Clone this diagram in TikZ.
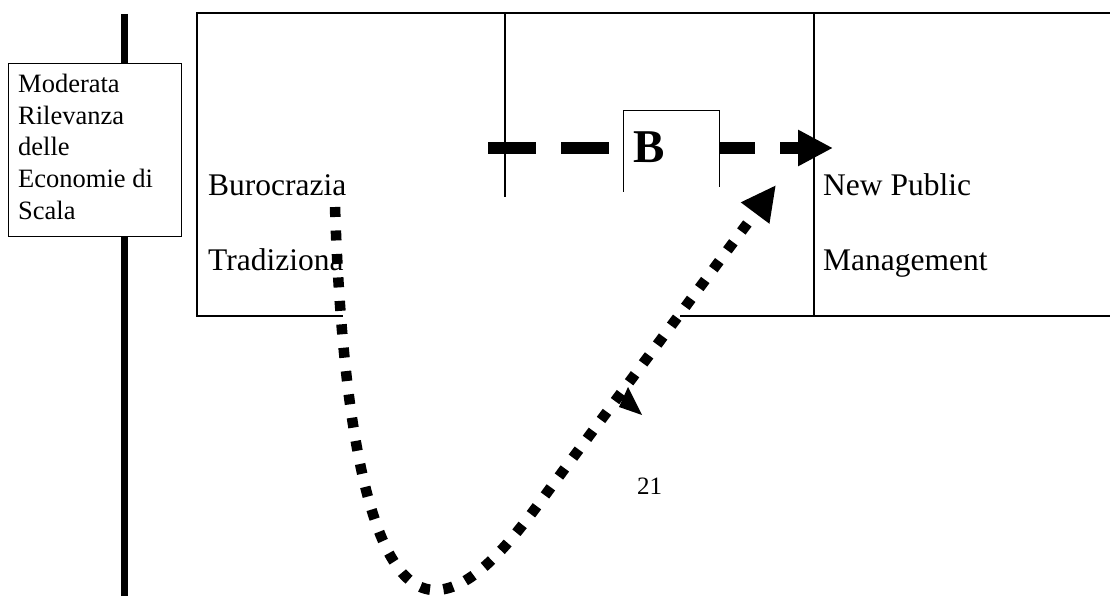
\documentclass[tikz,border=0pt]{standalone}
\usepackage{fontspec}
\setmainfont{Liberation Serif}
\usetikzlibrary{arrows.meta}
\begin{document}
\begin{tikzpicture}[x=1pt,y=-1pt,
  frame/.style={line width=1.3pt},
  bigtxt/.style={anchor=base west,inner sep=0pt,font=\fontsize{31.5}{37}\selectfont},
  smalltxt/.style={anchor=base west,inner sep=0pt,font=\fontsize{26.5}{31.3}\selectfont},
  dashedarrow/.style={line width=11.7pt,dash pattern=on 48pt off 25pt,-{Triangle[length=35pt,width=34pt]}},
  dottedarrow/.style={line width=10.5pt,dash pattern=on 10pt off 13.5pt,-{Triangle[length=35pt,width=33pt]}}]
\useasboundingbox (0,0) rectangle (1110,596);
% thick vertical axis
\coordinate (axtop) at (124,14);
\coordinate (axbot) at (124,596);
\draw[line width=7pt] (axtop) -- (axbot);
% left label box
\node[draw,fill=white,line width=1pt,minimum width=173pt,minimum height=173pt,anchor=north west,inner sep=0pt] (mod) at (8,63) {};
\node[smalltxt] (m1) at (18,93) {Moderata};
\node[smalltxt] (m2) at (18,124.5) {Rilevanza};
\node[smalltxt] (m3) at (18,156) {delle};
\node[smalltxt] (m4) at (18,187.5) {Economie di};
\node[smalltxt] (m5) at (18,219) {Scala};
% table frame
\draw[frame] (1110,13) -- (197,13) -- (197,316) -- (343,316);
\draw[frame] (680,316) -- (1110,316);
\draw[frame] (505,13) -- (505,197);
\draw[frame] (814,13) -- (814,316);
% texts
\node[bigtxt] (bur) at (208,196) {Burocrazia};
\node[bigtxt] (trad) at (208,270) {Tradiziona};
\node[bigtxt] (npm) at (823,195) {New Public};
\node[bigtxt] (mgmt) at (823,270) {Management};
\node[anchor=base west,inner sep=0pt,font=\fontsize{25}{30}\selectfont] (pg) at (637,494) {21};
% dashed arrow
\coordinate (dstart) at (488,148);
\coordinate (dend) at (833,148);
\draw[dashedarrow] (dstart) -- (dend);
% B box
\node[fill=white,minimum width=96pt,minimum height=81pt,anchor=north west,inner sep=0pt] (bbox) at (623,111) {};
\draw[line width=1pt] (623,192) -- (623,111) -- (719,111) -- (719,187);
\node[anchor=base west,inner sep=0pt,font=\fontsize{47}{50}\bfseries] (B) at (633,163) {B};
% dotted curved arrow
\coordinate (cstart) at (335,207);
\coordinate (ctip) at (776,185);
\draw[dottedarrow] (cstart) .. controls (342,420) and (370,590) .. (435,590)
  .. controls (480,590) and (525,522) .. (560,475) -- (ctip);
\fill (628,387) -- (642,415) -- (619,407) -- cycle;
\end{tikzpicture}
\end{document}
